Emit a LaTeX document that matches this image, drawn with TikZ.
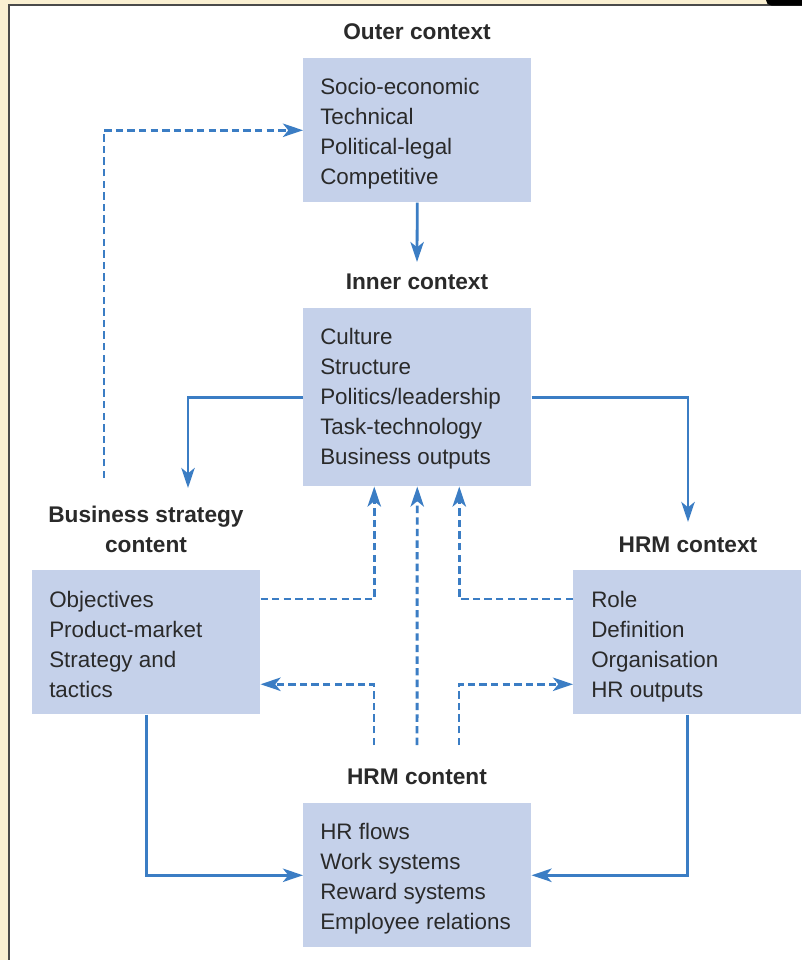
\documentclass[tikz,border=0pt]{standalone}
\usepackage{fontspec}
\setmainfont{Liberation Sans}
\usetikzlibrary{arrows.meta,calc}
\definecolor{boxfill}{HTML}{C5D1EA}
\definecolor{arrowblue}{HTML}{3B7DC4}
\definecolor{txtcol}{HTML}{2A2A2A}
\definecolor{cream}{HTML}{FAF0D2}
\definecolor{framegrey}{HTML}{4A4A4A}
\begin{document}
\begin{tikzpicture}[x=0.75pt,y=-0.75pt,
  box/.style={fill=boxfill, draw=none, minimum width=171pt, minimum height=108pt, anchor=north west, inner sep=0pt},
  txt/.style={font=\fontsize{16.8}{22}\selectfont, text=txtcol, anchor=base west, inner sep=0pt},
  ttl/.style={font=\fontsize{17}{22}\selectfont\bfseries, text=txtcol, anchor=base, inner sep=0pt},
  conn/.style={draw=arrowblue, line width=2.1pt, -{Stealth[length=15pt,width=10pt,inset=4pt]}},
  dconn/.style={conn, line width=2.2pt, dash pattern=on 5.5pt off 3.2pt}]
\useasboundingbox (0,0) rectangle (802,960);
% frame
\fill[cream] (0,0) rectangle (802,960);
\fill[white] (9,5) rectangle (802,960);
\draw[framegrey, line width=0.9pt] (9,960) -- (9,5) -- (802,5);
\fill[black, rounded corners=4pt] (766,-8) rectangle (812,5.5);
% boxes
\node[box] (outer) at (303,58) {};
\node[box, minimum height=133.5pt] (inner) at (303,308) {};
\node[box] (left) at (32,570) {};
\node[box] (right) at (573,570) {};
\node[box] (bottom) at (303,803) {};
% titles
\node[ttl] (outerTitle) at (417,39) {Outer context};
\node[ttl] (innerTitle) at (417,289) {Inner context};
\node[ttl] (bscTitleA) at (146,522) {Business strategy};
\node[ttl] (bscTitleB) at (146,552) {content};
\node[ttl] (hrmCtxTitle) at (688,552) {HRM context};
\node[ttl] (hrmCntTitle) at (417,784) {HRM content};
% texts
\foreach \t [count=\i] in {Socio-economic,Technical,Political-legal,Competitive}
  \node[txt] (outerT\i) at (320,{94+30*(\i-1)}) {\t};
\foreach \t [count=\i] in {Culture,Structure,Politics/leadership,Task-technology,Business outputs}
  \node[txt] (innerT\i) at (320,{344+30*(\i-1)}) {\t};
\foreach \t [count=\i] in {Objectives,Product-market,Strategy and,tactics}
  \node[txt] (leftT\i) at (49,{607+30*(\i-1)}) {\t};
\foreach \t [count=\i] in {Role,Definition,Organisation,HR outputs}
  \node[txt] (rightT\i) at (591,{607+30*(\i-1)}) {\t};
\foreach \t [count=\i] in {HR flows,Work systems,Reward systems,Employee relations}
  \node[txt] (bottomT\i) at (320,{839+30*(\i-1)}) {\t};
% solid connectors
\coordinate (innerArrowEnd) at (417,262);
\draw[conn] (outer.south) -- (innerArrowEnd);
\coordinate (bsArrowEnd) at (188,488);
\draw[conn] (inner.west) -| (bsArrowEnd);
\coordinate (hrmArrowEnd) at (688,522);
\draw[conn] (inner.east) -| (hrmArrowEnd);
\draw[conn] (left.south) |- (bottom.west);
\draw[conn] (right.south) |- (bottom.east);
% dashed connectors
\coordinate (loopStart) at (104,478);
\draw[dconn] (loopStart) |- (outer.west);
\draw[dconn] ($(left.north east)+(0,29)$) -| ($(inner.south)+(-43,0)$);
\draw[dconn] ($(right.north west)+(0,29)$) -| ($(inner.south)+(42,0)$);
\coordinate (hc) at (417,745);
\draw[dconn] (hc) -- (inner.south);
\coordinate (hl) at (374,745);
\draw[dconn] (hl) |- ($(left.east)+(0,42)$);
\coordinate (hr) at (459,745);
\draw[dconn] (hr) |- ($(right.west)+(0,42)$);
\end{tikzpicture}
\end{document}
